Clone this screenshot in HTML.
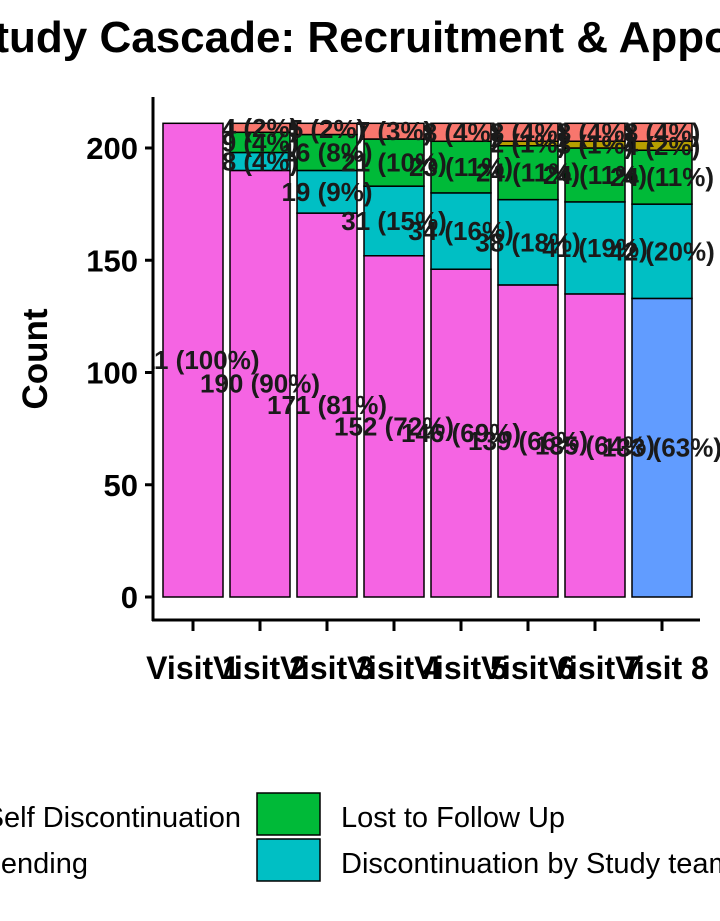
<!DOCTYPE html>
<html><head><meta charset="utf-8">
<style>
html,body{margin:0;padding:0;background:#fff;}
svg{display:block;font-family:"Liberation Sans",Arial,sans-serif;}
</style></head>
<body>
<svg id="chart" width="720" height="921" viewBox="0 0 720 921">
  <defs><clipPath id="panel"><rect x="153" y="90" width="567" height="530"/></clipPath></defs>
  <text x="-35" y="52" font-size="44" font-weight="bold" fill="#000">Study Cascade: Recruitment &amp; Appointments</text>
  <text transform="translate(47,359) rotate(-90)" text-anchor="middle" font-size="35" font-weight="bold">Count</text>
  <g id="bars" clip-path="url(#panel)"></g>
  <g id="labels" clip-path="url(#panel)"></g>
  <g id="axes"></g>
  <g id="legend">
    <text x="241" y="827" text-anchor="end" font-size="29">Self Discontinuation</text>
    <text x="88" y="873" text-anchor="end" font-size="29">Pending</text>
    <rect x="257" y="793" width="63" height="42" fill="#00BA38" stroke="#000" stroke-width="1.5"/>
    <rect x="257" y="839" width="63" height="42" fill="#00BFC4" stroke="#000" stroke-width="1.5"/>
    <text x="341" y="827" font-size="29">Lost to Follow Up</text>
    <text x="341" y="873" font-size="29">Discontinuation by Study team</text>
  </g>
</svg>
<script>
const categories = ["Visit 1","Visit 2","Visit 3","Visit 4","Visit 5","Visit 6","Visit 7","Visit 8"];
const mainValues = [211,190,171,152,146,139,135,133];
const studyTeamValues = [0,8,19,31,34,38,41,42];
const lostValues = [0,9,16,21,23,24,24,24];
const pendingValues = [0,0,0,0,0,2,3,4];
const selfDiscValues = [0,4,5,7,8,8,8,8];
const yTicks = [0,50,100,150,200];

const NS="http://www.w3.org/2000/svg";
const y0=597, pxPer=449/200;
const yScale=v=>y0-v*pxPer;
const xCenter=i=>193+i*67;
const barW=60;
const bars=document.getElementById('bars'), labels=document.getElementById('labels'), axes=document.getElementById('axes');
function mk(tag,attrs,parent){const e=document.createElementNS(NS,tag);for(const k in attrs)e.setAttribute(k,attrs[k]);parent.appendChild(e);return e;}

categories.forEach((c,i)=>{
  const total=mainValues[i]+studyTeamValues[i]+lostValues[i]+pendingValues[i]+selfDiscValues[i];
  const series=[
    [mainValues[i], i===categories.length-1?'#619CFF':'#F564E3','main'],
    [studyTeamValues[i],'#00BFC4','study-team'],
    [lostValues[i],'#00BA38','lost'],
    [pendingValues[i],'#B79F00','pending'],
    [selfDiscValues[i],'#F8766D','self-disc']
  ];
  let cum=0;
  series.forEach(s=>{
    const v=s[0]; if(v<=0) return;
    const r=mk('rect',{x:xCenter(i)-barW/2,y:yScale(cum+v),width:barW,height:v*pxPer,fill:s[1],stroke:'#000','stroke-width':1.5},bars);
    
    
    cum+=v;
  });
  cum=0;
  series.forEach(s=>{
    const v=s[0]; if(v<=0) return;
    const pct=Math.round(v/total*100);
    const t=mk('text',{x:xCenter(i),y:yScale(cum+v/2)+9,'text-anchor':'middle','font-size':26,'font-weight':'bold',fill:'#1a1a1a'},labels);
    t.textContent=v+' ('+pct+'%)';
    
    
    cum+=v;
  });
});
mk('line',{x1:153,y1:97,x2:153,y2:621,stroke:'#000','stroke-width':3},axes);
mk('line',{x1:152,y1:620,x2:700,y2:620,stroke:'#000','stroke-width':3},axes);
yTicks.forEach(t=>{
  mk('line',{x1:145,x2:153,y1:yScale(t),y2:yScale(t),stroke:'#000','stroke-width':3},axes);
  const tx=mk('text',{x:138,y:yScale(t)+11,'text-anchor':'end','font-size':31,'font-weight':'bold'},axes);
  tx.textContent=t;
  
  
});
categories.forEach((c,i)=>{
  mk('line',{x1:xCenter(i),x2:xCenter(i),y1:620,y2:631,stroke:'#000','stroke-width':3},axes);
  const tx=mk('text',{x:xCenter(i),y:679,'text-anchor':'middle','font-size':32,'font-weight':'bold'},axes);
  tx.textContent=c;
  
  
});
</script>
</body></html>
